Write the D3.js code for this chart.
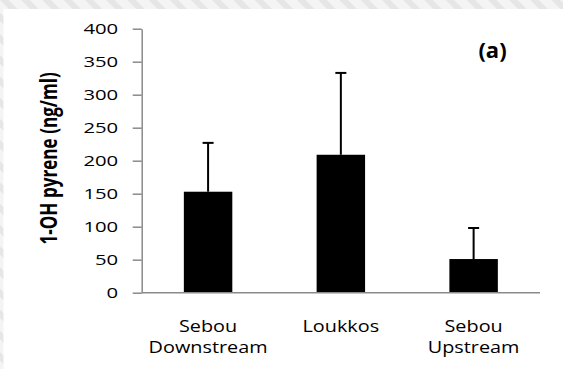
<!DOCTYPE html>
<html>
<head>
<meta charset="utf-8">
<script src="https://cdn.jsdelivr.net/npm/d3@7"></script>
<style>
  html, body { margin: 0; padding: 0; background: #f3f3f3; }
  svg { display: block; }
</style>
</head>
<body>
<script>
// 1-OH pyrene concentrations by site (mean and upper SD)
const sites = [["Sebou", "Downstream"], ["Loukkos"], ["Sebou", "Upstream"]];
const means = [153, 209, 51];
const sds = [74, 124, 47];
const yTicks = [0, 50, 100, 150, 200, 250, 300, 350, 400];

const W = 563, H = 369;
const svg = d3.select("body").append("svg").attr("width", W).attr("height", H);

// hatched backdrop around the panel
const defs = svg.append("defs");
const pat = defs.append("pattern")
  .attr("id", "hatch").attr("patternUnits", "userSpaceOnUse")
  .attr("width", 15).attr("height", 15)
  .attr("patternTransform", "rotate(-45)");
pat.append("rect").attr("width", 15).attr("height", 15).attr("fill", "#f4f4f4");
pat.append("rect").attr("width", 6).attr("height", 15).attr("fill", "#e6e6e6");
svg.append("rect").attr("width", W).attr("height", H).attr("fill", "url(#hatch)");
svg.append("rect").attr("x", 3.5).attr("y", 9).attr("width", W - 3.5).attr("height", H - 9).attr("fill", "#fff");

const x0 = 141.7, x1 = 540, yb = 292.7, yt = 28.7;
const x = d3.scaleBand().domain(d3.range(sites.length)).range([x0, x1]).paddingInner(0).paddingOuter(0);
const y = d3.scaleLinear().domain([0, 400]).range([yb, yt]);
const barW = x.bandwidth() * 0.365;
const axisColor = "#8a8a8a";

// y axis
const gy = svg.append("g").attr("transform", `translate(${x0},0)`)
  .call(d3.axisLeft(y).tickValues(yTicks).tickSize(9).tickSizeOuter(0).tickPadding(0));
gy.select(".domain").attr("stroke", axisColor).attr("stroke-width", 1.5);
gy.selectAll(".tick line").attr("stroke", axisColor).attr("stroke-width", 1.5);
gy.selectAll(".tick text")
  .attr("x", 0).attr("dy", "0.36em")
  .attr("text-anchor", "end")
  .attr("transform", "translate(-23.5,0) scale(1.4,1)")
  .attr("font-family", "Open Sans").attr("font-size", 14.5).attr("fill", "#000");

// bars
svg.append("g").selectAll("rect").data(means).join("rect")
  .attr("x", (d, i) => x(i) + (x.bandwidth() - barW) / 2)
  .attr("y", d => y(d))
  .attr("width", barW)
  .attr("height", d => y(0) - y(d))
  .attr("fill", "#000");

// upper error bars
const eb = svg.append("g").attr("stroke", "#000").attr("stroke-width", 2);
means.forEach((m, i) => {
  const cx = x(i) + x.bandwidth() / 2;
  eb.append("line").attr("x1", cx).attr("x2", cx).attr("y1", y(m)).attr("y2", y(m + sds[i]));
  eb.append("line").attr("x1", cx - 5.5).attr("x2", cx + 5.5).attr("y1", y(m + sds[i])).attr("y2", y(m + sds[i]));
});

// x axis baseline
svg.append("line").attr("x1", x0).attr("x2", x1).attr("y1", yb).attr("y2", yb)
  .attr("stroke", axisColor).attr("stroke-width", 1.5);

// category labels
sites.forEach((lines, i) => {
  const cx = x(i) + x.bandwidth() / 2;
  lines.forEach((t, j) => {
    svg.append("text")
      .attr("transform", `translate(${cx},${331.5 + j * 21.6}) scale(1.24,1)`)
      .attr("text-anchor", "middle")
      .attr("font-family", "Open Sans").attr("font-size", 16).attr("fill", "#000")
      .text(t);
  });
});

// y axis title
svg.append("text")
  .attr("transform", "translate(57,158.4) rotate(-90) scale(1.07,1.4)")
  .attr("text-anchor", "middle")
  .attr("font-family", "Open Sans").attr("font-weight", "bold").attr("font-size", 16).attr("fill", "#000")
  .text("1-OH pyrene (ng/ml)");

// panel tag
svg.append("text")
  .attr("x", 492.5).attr("y", 57.5)
  .attr("text-anchor", "middle")
  .attr("font-family", "Open Sans").attr("font-weight", "bold").attr("font-size", 22).attr("fill", "#000")
  .text("(a)");
</script>
</body>
</html>
